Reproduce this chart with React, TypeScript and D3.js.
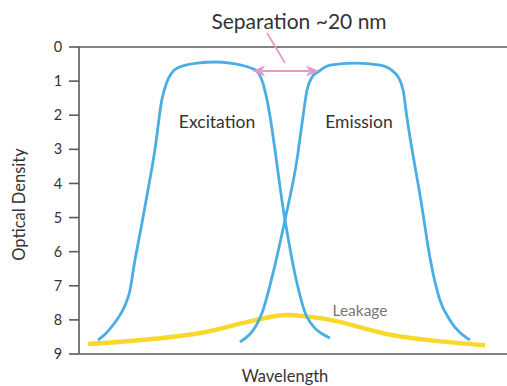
import React from "react";
import * as d3 from "d3";

const odTicks = [0, 1, 2, 3, 4, 5, 6, 7, 8, 9];

const excitationNm = [456.0, 458.6, 460.8, 463.0, 464.9, 466.2, 467.5, 470.0, 471.9, 474.1, 476.3, 477.9, 481.1, 487.5, 493.2, 497.9, 505.9, 508.4, 509.7, 515.4, 519.2, 522.4, 529.7];
const excitationOD = [8.59, 8.39, 8.15, 7.86, 7.51, 7.13, 6.39, 5.16, 4.19, 3.02, 1.55, 1.03, 0.62, 0.47, 0.44, 0.47, 0.67, 1.06, 1.55, 5.07, 6.92, 7.92, 8.53];

const emissionNm = [501.1, 508.1, 511.6, 515.4, 519.2, 521.1, 522.4, 524.0, 525.9, 529.7, 537.6, 545.6, 550.3, 552.9, 554.1, 558.9, 561.4, 564.6, 567.8, 574.1];
const emissionOD = [8.65, 7.8, 6.63, 5.07, 3.31, 2.05, 1.26, 0.88, 0.73, 0.53, 0.47, 0.53, 0.76, 1.26, 2.05, 4.69, 6.16, 7.42, 8.01, 8.59];

const leakageNm = [452.9, 472.5, 489.4, 504.0, 516.0, 528.0, 549.7, 564.6, 578.9];
const leakageOD = [8.71, 8.57, 8.37, 8.05, 7.86, 7.97, 8.45, 8.63, 8.74];

const separationNm = [505.0, 526.2];
const separationOD = 0.7;

export default function App() {
  const W = 507;
  const H = 386;
  const left = 79;
  const top = 47;
  const bottom = 354;
  const x = d3.scaleLinear().domain([450, 585.9]).range([left, W]);
  const y = d3.scaleLinear().domain([0, 9]).range([top, bottom]);

  const line = d3
    .line<[number, number]>()
    .x((d) => x(d[0]))
    .y((d) => y(d[1]))
    .curve(d3.curveMonotoneX);

  const exc = excitationNm.map((v, i) => [v, excitationOD[i]] as [number, number]);
  const emi = emissionNm.map((v, i) => [v, emissionOD[i]] as [number, number]);
  const leak = leakageNm.map((v, i) => [v, leakageOD[i]] as [number, number]);

  const font = "Lato, 'Open Sans', sans-serif";
  const axisColor = "#5a5a5a";
  const blue = "#4aaee4";
  const yellow = "#f8d82a";
  const pink = "#e49ac6";

  const ax1 = x(separationNm[0]);
  const ax2 = x(separationNm[1]);
  const ay = y(separationOD);
  const hl = 13;
  const hw = 5.5;

  return (
    <svg
      width={W}
      height={H}
      style={{ position: "absolute", left: 0, top: 0, background: "#fff" }}
      fontFamily={font}
    >
      <line x1={left} x2={W} y1={top} y2={top} stroke={axisColor} strokeWidth={1.6} />
      <line x1={left} x2={W} y1={bottom} y2={bottom} stroke={axisColor} strokeWidth={1.6} />
      <line x1={left} x2={left} y1={top} y2={bottom} stroke={axisColor} strokeWidth={1.6} />
      {odTicks.map((t) => (
        <g key={t}>
          <line x1={left - 10} x2={left} y1={y(t)} y2={y(t)} stroke={axisColor} strokeWidth={1.6} />
          <text x={58} y={y(t)} dy="0.35em" textAnchor="middle" fontSize={14.5} fill="#333">
            {t}
          </text>
        </g>
      ))}
      <text
        transform={`translate(25, ${(top + bottom) / 2 + 4}) rotate(-90)`}
        textAnchor="middle"
        fontSize={16.5}
        fill="#333"
      >
        Optical Density
      </text>
      <text x={285} y={382} textAnchor="middle" fontSize={16.5} fill="#333">
        Wavelength
      </text>

      <path d={line(leak) || ""} fill="none" stroke={yellow} strokeWidth={4.5} />
      <path d={line(exc) || ""} fill="none" stroke={blue} strokeWidth={2.8} />
      <path d={line(emi) || ""} fill="none" stroke={blue} strokeWidth={2.8} />

      <line x1={ax1 + hl - 3} x2={ax2 - hl + 3} y1={ay} y2={ay} stroke={pink} strokeWidth={2} />
      <path
        d={`M${ax1},${ay} L${ax1 + hl},${ay - hw} L${ax1 + hl - 3.5},${ay} L${ax1 + hl},${ay + hw} Z`}
        fill={pink}
      />
      <path
        d={`M${ax2},${ay} L${ax2 - hl},${ay - hw} L${ax2 - hl + 3.5},${ay} L${ax2 - hl},${ay + hw} Z`}
        fill={pink}
      />
      <line x1={267} y1={33} x2={285} y2={ay - 8} stroke={pink} strokeWidth={1.8} />

      <text x={299} y={29} textAnchor="middle" fontSize={21} fill="#333">
        Separation ~20 nm
      </text>
      <text x={217} y={128} textAnchor="middle" fontSize={17.5} fill="#333">
        Excitation
      </text>
      <text x={359} y={128} textAnchor="middle" fontSize={17.5} fill="#333">
        Emission
      </text>
      <text x={360} y={316} textAnchor="middle" fontSize={15.5} fill="#777">
        Leakage
      </text>
    </svg>
  );
}
